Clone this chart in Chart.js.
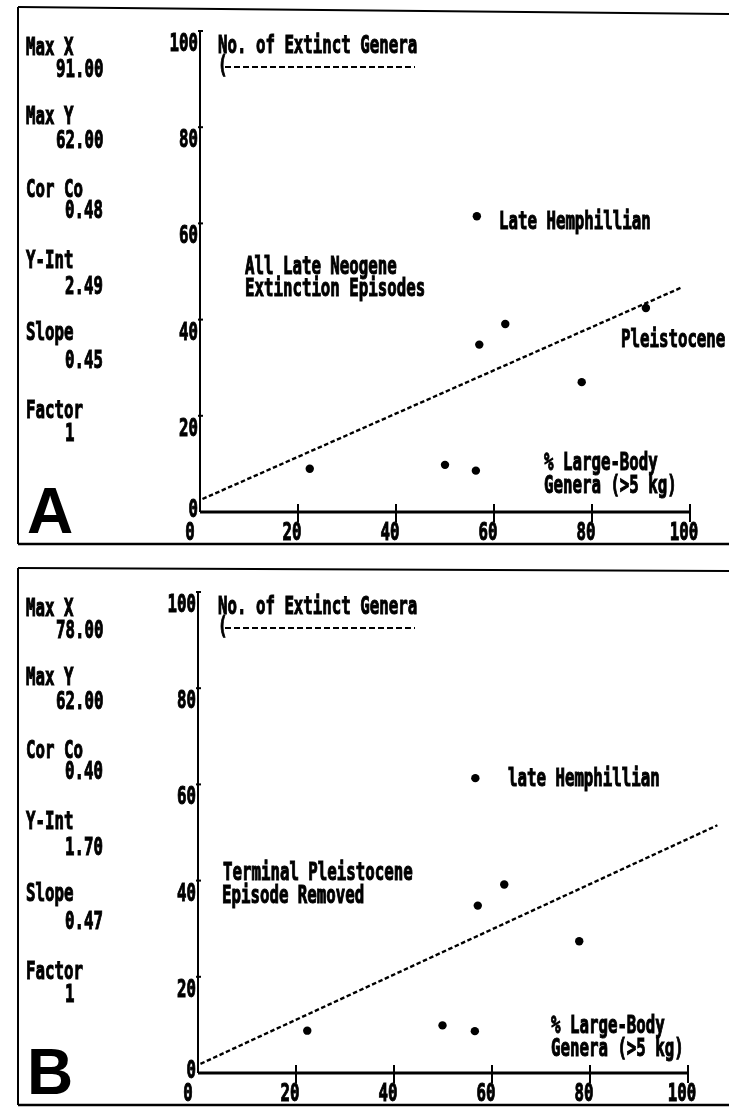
<!DOCTYPE html>
<html>
<head>
<meta charset="utf-8">
<script src="https://cdn.jsdelivr.net/npm/chart.js@4.4.1/dist/chart.umd.min.js"></script>
<style>
  html, body { margin: 0; padding: 0; background: #fff; }
  #wrap { position: relative; width: 729px; height: 1107px; overflow: hidden; }
  canvas { position: absolute; left: 0; }
  #panelA { top: 0; }
  #panelB { top: 561px; }
</style>
</head>
<body>
<div id="wrap">
  <canvas id="panelA" width="729" height="561"></canvas>
  <canvas id="panelB" width="729" height="546"></canvas>
</div>
<script>
// values
const xTicks = [0, 20, 40, 60, 80, 100];
const yTicks = [0, 20, 40, 60, 80, 100];

// A: all late Neogene extinction episodes
const largeBodyA = [22.4, 50.0, 56.3, 57.0, 62.3, 77.9, 91.0, 56.5];
const extinctA = [9.0, 9.8, 8.6, 34.8, 39.1, 27.0, 42.4, 61.5];
// B: terminal Pleistocene episode removed
const largeBodyB = [22.3, 49.9, 56.5, 57.1, 62.5, 77.8, 56.6];
const extinctB = [8.8, 9.9, 8.7, 34.8, 39.2, 27.4, 61.3];

// ends of the fitted (dotted) lines
const fitXA = [0.5, 98.1];
const fitYA = [2.7, 46.6];
const fitXB = [0.5, 106];
const fitYB = [1.9, 51.5];

const statNames = ["Max X", "Max Y", "Cor Co", "Y-Int", "Slope", "Factor"];
const statsA = ["91.00", "62.00", "0.48", "2.49", "0.45", "1"];
const statsB = ["78.00", "62.00", "0.40", "1.70", "0.47", "1"];

const MONO = 'bold 25px "DejaVu Sans Mono"';

function txt(ctx, s, x, y, align) {
  ctx.save();
  ctx.font = MONO;
  ctx.fillStyle = "#000";
  ctx.strokeStyle = "#000";
  ctx.lineWidth = 1.1;
  ctx.textBaseline = "alphabetic";
  ctx.textAlign = align || "left";
  ctx.translate(x, y);
  ctx.scale(0.63, 1);
  ctx.fillText(s, 0, 0);
  ctx.strokeText(s, 0, 0);
  ctx.restore();
}

function line(ctx, x1, y1, x2, y2, w) {
  ctx.beginPath();
  ctx.lineWidth = w;
  ctx.moveTo(x1, y1);
  ctx.lineTo(x2, y2);
  ctx.stroke();
}

const figurePlugin = {
  id: "figure",
  afterDraw(chart, args, o) {
    const ctx = chart.ctx;
    const xs = chart.scales.x, ys = chart.scales.y;
    const x0 = xs.getPixelForValue(0), y0 = ys.getPixelForValue(0);
    const xEnd = xs.getPixelForValue(100), yTop = ys.getPixelForValue(100);

    ctx.save();
    ctx.strokeStyle = "#000";
    ctx.fillStyle = "#000";

    // frame, open on the right
    line(ctx, 18, o.frameTop[0], 729, o.frameTop[1], 2);
    line(ctx, 18, o.frameTop[0], 18, o.frameBottom, 2);
    line(ctx, 18, o.frameBottom, 729, o.frameBottom, 2.5);

    // y axis
    line(ctx, x0, yTop - 1, x0, y0, 2);
    yTicks.forEach(v => {
      const py = ys.getPixelForValue(v);
      if (v > 0) line(ctx, x0 - 2, py, x0 + 3, py, 2);
      txt(ctx, String(v), x0 - 2, v === 0 ? y0 + 5 : py + 20, "right");
    });

    // x axis
    line(ctx, x0, y0, xEnd, y0, 3);
    xTicks.forEach(v => {
      const px = xs.getPixelForValue(v);
      if (v > 0) line(ctx, px, y0 - 8, px, y0 + 10, 2);
      txt(ctx, String(v), px - (v === 0 ? 10 : 6), y0 + 28, "center");
    });

    // axis titles
    txt(ctx, "No. of Extinct Genera", 218, 53);
    txt(ctx, "(", 218, 73);
    ctx.save();
    ctx.setLineDash([6, 3]);
    line(ctx, 225, 67, 415, 67, 2);
    ctx.restore();
    txt(ctx, "% Large-Body", o.xTitle[0], o.xTitle[1]);
    txt(ctx, "Genera (>5 kg)", o.xTitle[0], o.xTitle[1] + 23);

    // statistics column
    const stY = [55, 77, 124, 148, 197, 218, 268, 294, 340, 368, 418, 441];
    statNames.forEach((n, i) => {
      txt(ctx, n, 26, stY[i * 2]);
      const v = o.stats[i];
      txt(ctx, v, v.length >= 5 ? 56 : 65, stY[i * 2 + 1]);
    });

    // notes
    o.notes.forEach(n => txt(ctx, n[0], n[1], n[2]));

    // panel letter
    ctx.font = 'bold 64px "Liberation Sans", Arial, sans-serif';
    ctx.textAlign = "left";
    ctx.fillText(o.letter, 27, 533);
    ctx.restore();
  }
};

function makePanel(id, xs, ys, fx, fy, pad, fig) {
  const pts = xs.map((x, i) => ({ x: x, y: ys[i] }));
  const fit = fx.map((x, i) => ({ x: x, y: fy[i] }));
  return new Chart(document.getElementById(id), {
    type: "scatter",
    data: {
      datasets: [
        {
          label: "episodes",
          data: pts,
          pointRadius: 4.2,
          pointBackgroundColor: "#000",
          pointBorderWidth: 0,
          clip: false,
        },
        {
          type: "line",
          label: "fit",
          data: fit,
          borderColor: "#000",
          borderWidth: 2.4,
          borderDash: [4.5, 2.5],
          pointRadius: 0,
          fill: false,
          clip: false,
        },
      ],
    },
    options: {
      responsive: false,
      animation: false,
      devicePixelRatio: 1,
      layout: { padding: pad },
      plugins: {
        legend: { display: false },
        tooltip: { enabled: false },
        figure: fig,
      },
      scales: {
        x: { type: "linear", min: 0, max: 100, display: false },
        y: { type: "linear", min: 0, max: 100, display: false },
      },
    },
    plugins: [figurePlugin],
  });
}

makePanel("panelA", largeBodyA, extinctA, fitXA, fitYA,
  { left: 200, right: 39, top: 31, bottom: 49 },
  {
    letter: "A",
    stats: statsA,
    frameTop: [7, 14],
    frameBottom: 544,
    xTitle: [544, 470],
    notes: [
      ["Late Hemphillian", 499, 229],
      ["All Late Neogene", 245, 274],
      ["Extinction Episodes", 245, 296],
      ["Pleistocene", 621, 347],
    ],
  });

makePanel("panelB", largeBodyB, extinctB, fitXB, fitYB,
  { left: 198, right: 41, top: 31, bottom: 34 },
  {
    letter: "B",
    stats: statsB,
    frameTop: [7, 10],
    frameBottom: 544,
    xTitle: [551, 472],
    notes: [
      ["late Hemphillian", 508, 225],
      ["Terminal Pleistocene", 223, 319],
      ["Episode Removed", 222, 342],
    ],
  });
</script>
</body>
</html>
